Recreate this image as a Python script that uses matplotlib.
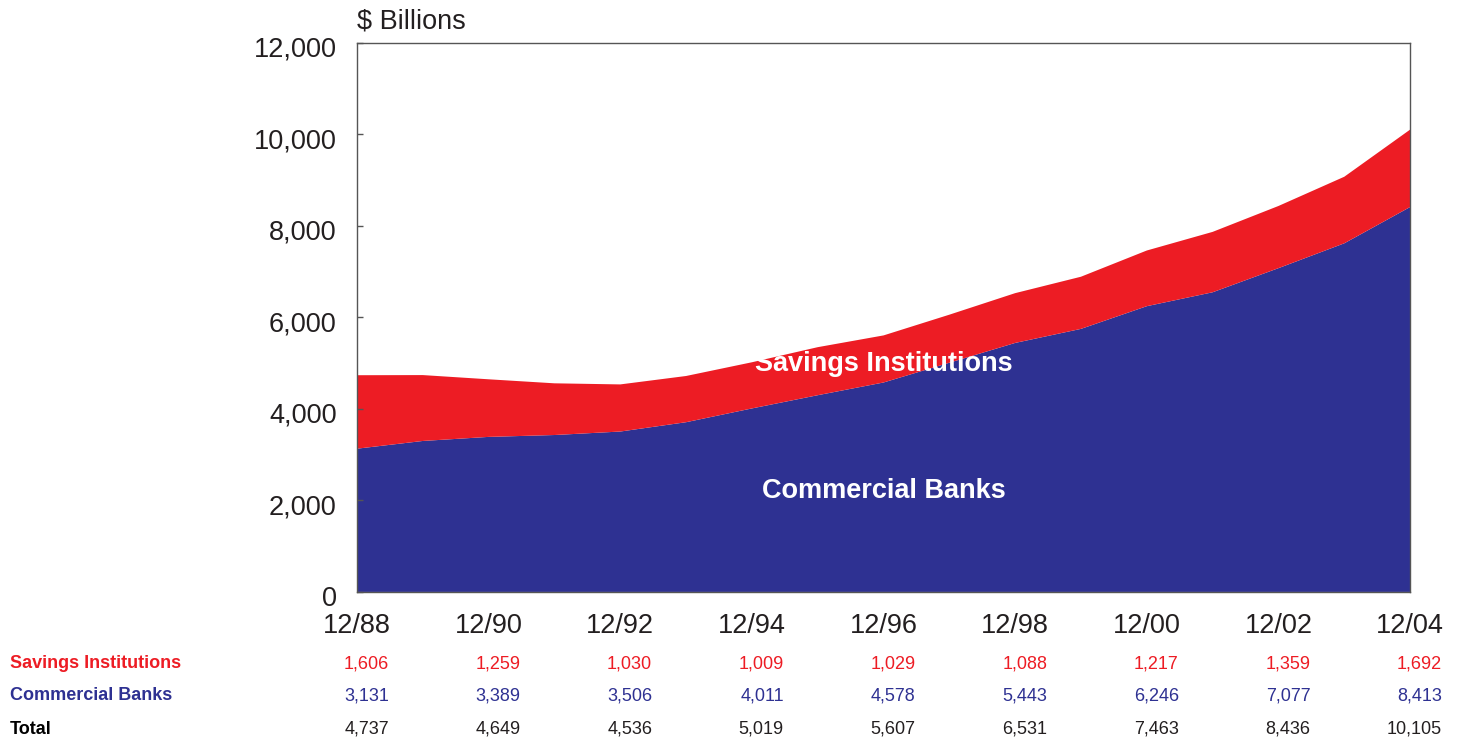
import numpy as np
import matplotlib.pyplot as plt
import matplotlib.transforms as mtransforms

plt.rcParams['font.family'] = ['Liberation Sans', 'DejaVu Sans']

# Year-end assets, $ billions
years = np.arange(1988, 2005)
commercial = [3131, 3300, 3389, 3430, 3506, 3710, 4011, 4300, 4578,
              5010, 5443, 5750, 6246, 6550, 7077, 7620, 8413]
savings = [1606, 1440, 1259, 1130, 1030, 1010, 1009, 1050, 1029,
           1050, 1088, 1140, 1217, 1320, 1359, 1455, 1692]

# values shown in the table beneath the chart
table_years = [1988, 1990, 1992, 1994, 1996, 1998, 2000, 2002, 2004]
tick_labels = ['12/88', '12/90', '12/92', '12/94', '12/96',
               '12/98', '12/00', '12/02', '12/04']
table_savings = [1606, 1259, 1030, 1009, 1029, 1088, 1217, 1359, 1692]
table_commercial = [3131, 3389, 3506, 4011, 4578, 5443, 6246, 7077, 8413]
table_total = [4737, 4649, 4536, 5019, 5607, 6531, 7463, 8436, 10105]

red = '#ED1C24'
blue = '#2E3192'
dark = '#231F20'

fig = plt.figure(figsize=(14.57, 7.39), dpi=100)
ax = fig.add_axes([0.245, 0.199, 0.7228, 0.7429])

ax.stackplot(years, commercial, savings, colors=[blue, red], linewidth=0)

ax.set_xlim(1988, 2004)
ax.set_ylim(0, 12000)
ax.set_yticks(np.arange(0, 12001, 2000))
ax.set_yticklabels(['{:,}'.format(v) for v in range(0, 12001, 2000)])
ax.set_xticks(table_years)
ax.set_xticklabels(tick_labels)
ax.tick_params(axis='y', direction='in', length=4, width=1, color='#555555',
               labelsize=19.5, labelcolor=dark, pad=14.5)
ax.tick_params(axis='x', length=0, labelsize=19.5, labelcolor=dark, pad=15)
for lab in ax.get_yticklabels():
    lab.set_transform(lab.get_transform() +
                      mtransforms.ScaledTranslation(0, -4 / 100, fig.dpi_scale_trans))
for sp in ax.spines.values():
    sp.set_color('#555555')
    sp.set_linewidth(1)
ax.set_axisbelow(False)

ax.text(0, 1.015, '$ Billions', transform=ax.transAxes, fontsize=19.5,
        color=dark, ha='left', va='bottom')

ax.text(1996, 4980, 'Savings Institutions', color='white', fontsize=19.5,
        fontweight='bold', ha='center', va='center')
ax.text(1996, 2200, 'Commercial Banks', color='white', fontsize=19.5,
        fontweight='bold', ha='center', va='center')

# data table under the axis
rows = [('Savings Institutions', table_savings, red, red, 664),
        ('Commercial Banks', table_commercial, blue, blue, 696),
        ('Total', table_total, 'black', dark, 729)]
offset = mtransforms.ScaledTranslation(32 / 100, 0, fig.dpi_scale_trans)
trans = mtransforms.blended_transform_factory(ax.transData, fig.transFigure) + offset
for name, vals, col, numcol, ypix in rows:
    yf = 1 - ypix / 739
    fig.text(10 / 1457, yf, name, color=col, fontsize=13, fontweight='bold',
             ha='left', va='center')
    for yr, v in zip(table_years, vals):
        ax.text(yr, yf, '{:,}'.format(v), transform=trans, color=numcol,
                fontsize=13, ha='right', va='center', clip_on=False)

fig.savefig('out.png', dpi=100)
